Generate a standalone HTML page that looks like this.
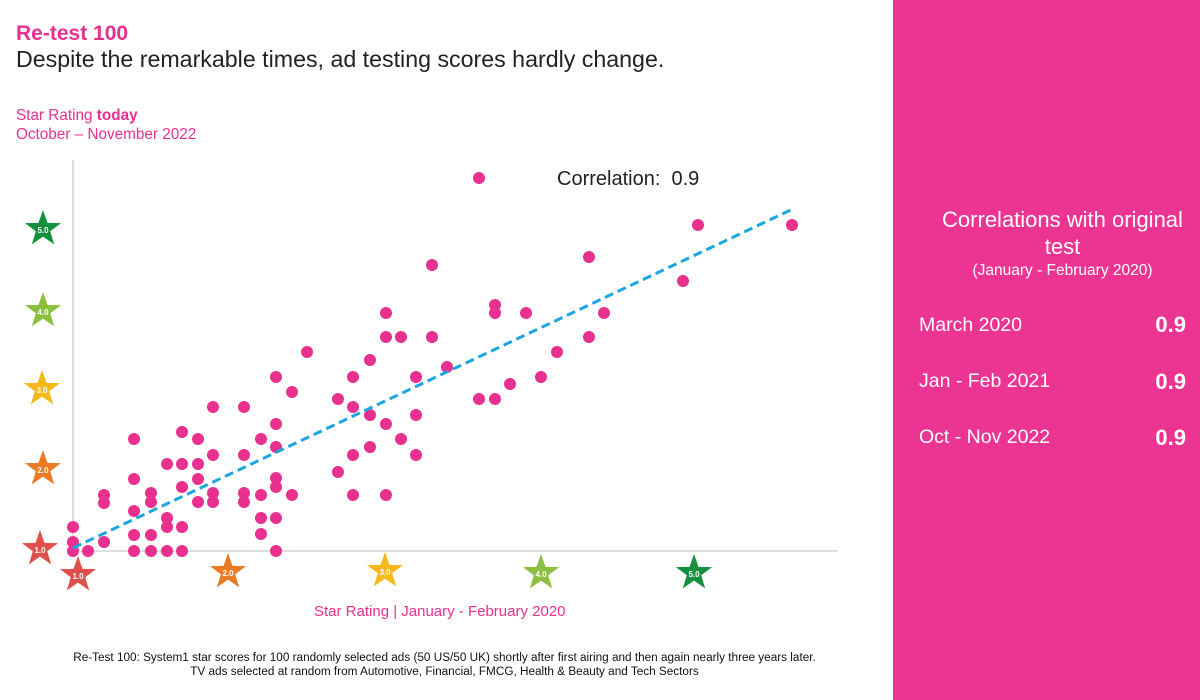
<!DOCTYPE html>
<html><head><meta charset="utf-8"><style>
body{margin:0;width:1200px;height:700px;background:#fff;font-family:"Liberation Sans",sans-serif;position:relative;overflow:hidden}
.t{position:absolute;white-space:nowrap}
</style></head><body>
<div class="t" style="left:16px;top:22px;font-size:21px;font-weight:bold;color:#e8318f">Re-test 100</div>
<div class="t" style="left:16px;top:46px;font-size:23.2px;color:#222">Despite the remarkable times, ad testing scores hardly change.</div>
<div class="t" style="left:16px;top:107px;font-size:15.3px;color:#e8318f">Star Rating <b>today</b></div>
<div class="t" style="left:16px;top:126px;font-size:15.3px;color:#e8318f">October – November 2022</div>
<div class="t" style="left:557px;top:168px;font-size:20px;color:#222">Correlation:&nbsp; 0.9</div>
<div class="t" style="left:314px;top:603px;font-size:15px;color:#e8318f">Star Rating | January - February 2020</div>
<div class="t" style="left:0;width:889px;top:651px;font-size:11.75px;color:#111;text-align:center;line-height:14px">Re-Test 100: System1 star scores for 100 randomly selected ads (50 US/50 UK) shortly after first airing and then again nearly three years later.<br>TV ads selected at random from Automotive, Financial, FMCG, Health &amp; Beauty and Tech Sectors</div>
<div style="position:absolute;left:893px;top:0;width:307px;height:700px;background:#ec3492;color:#fff">
<div class="t" style="left:16px;width:307px;top:206px;text-align:center;font-size:22px;line-height:27px;white-space:normal">Correlations with original<br>test</div>
<div class="t" style="left:16px;width:307px;top:262px;text-align:center;font-size:15.5px">(January - February 2020)</div>
<div class="t" style="left:26px;top:314px;font-size:19.5px">March 2020</div><div class="t" style="right:14px;top:312px;font-size:22px;font-weight:bold">0.9</div>
<div class="t" style="left:26px;top:370px;font-size:19.5px">Jan - Feb 2021</div><div class="t" style="right:14px;top:369px;font-size:22px;font-weight:bold">0.9</div>
<div class="t" style="left:26px;top:426px;font-size:19.5px">Oct - Nov 2022</div><div class="t" style="right:14px;top:425px;font-size:22px;font-weight:bold">0.9</div>
</div>
<svg width="893" height="700" style="position:absolute;left:0;top:0">
<defs><polygon id="st" points="0,-19 4.5,-6.1 18.1,-5.9 7.2,2.3 11.2,15.4 0,7.6 -11.2,15.4 -7.2,2.3 -18.1,-5.9 -4.5,-6.1"/></defs>
<line x1="73" y1="160" x2="73" y2="551" stroke="#bbb" stroke-width="1"/>
<line x1="73" y1="551" x2="838" y2="551" stroke="#bbb" stroke-width="1"/>
<g font-size="8" font-weight="bold" fill="#fff" text-anchor="middle" font-family="Liberation Sans">
<use href="#st" x="43" y="229" fill="#14903e"/><text x="43" y="233">5.0</text>
<use href="#st" x="43" y="311" fill="#8cbf3f"/><text x="43" y="315">4.0</text>
<use href="#st" x="42" y="389" fill="#f7b81c"/><text x="42" y="393">3.0</text>
<use href="#st" x="43" y="469" fill="#ec7a22"/><text x="43" y="473">2.0</text>
<use href="#st" x="40" y="549" fill="#e0504a"/><text x="40" y="553">1.0</text>
<use href="#st" x="78" y="575" fill="#e0504a"/><text x="78" y="579">1.0</text>
<use href="#st" x="228" y="572" fill="#ec7a22"/><text x="228" y="576">2.0</text>
<use href="#st" x="385" y="571" fill="#f7b81c"/><text x="385" y="575">3.0</text>
<use href="#st" x="541" y="573" fill="#8cbf3f"/><text x="541" y="577">4.0</text>
<use href="#st" x="694" y="573" fill="#14903e"/><text x="694" y="577">5.0</text>
</g>
<g fill="#e8318f">
<circle cx="73" cy="527" r="6"/><circle cx="73" cy="542" r="6"/><circle cx="73" cy="551" r="6"/><circle cx="88" cy="551" r="6"/><circle cx="104" cy="542" r="6"/><circle cx="104" cy="495" r="6"/><circle cx="104" cy="503" r="6"/><circle cx="134" cy="439" r="6"/><circle cx="134" cy="479" r="6"/><circle cx="134" cy="511" r="6"/><circle cx="134" cy="535" r="6"/><circle cx="134" cy="551" r="6"/><circle cx="151" cy="493" r="6"/><circle cx="151" cy="502" r="6"/><circle cx="151" cy="535" r="6"/><circle cx="151" cy="551" r="6"/><circle cx="167" cy="464" r="6"/><circle cx="167" cy="518" r="6"/><circle cx="167" cy="527" r="6"/><circle cx="167" cy="551" r="6"/><circle cx="182" cy="432" r="6"/><circle cx="182" cy="464" r="6"/><circle cx="182" cy="487" r="6"/><circle cx="182" cy="527" r="6"/><circle cx="182" cy="551" r="6"/><circle cx="198" cy="439" r="6"/><circle cx="198" cy="464" r="6"/><circle cx="198" cy="479" r="6"/><circle cx="198" cy="502" r="6"/><circle cx="213" cy="407" r="6"/><circle cx="213" cy="455" r="6"/><circle cx="213" cy="493" r="6"/><circle cx="213" cy="502" r="6"/><circle cx="244" cy="407" r="6"/><circle cx="244" cy="455" r="6"/><circle cx="244" cy="493" r="6"/><circle cx="244" cy="502" r="6"/><circle cx="261" cy="439" r="6"/><circle cx="261" cy="495" r="6"/><circle cx="261" cy="518" r="6"/><circle cx="261" cy="534" r="6"/><circle cx="276" cy="377" r="6"/><circle cx="276" cy="424" r="6"/><circle cx="276" cy="447" r="6"/><circle cx="276" cy="478" r="6"/><circle cx="276" cy="487" r="6"/><circle cx="276" cy="518" r="6"/><circle cx="276" cy="551" r="6"/><circle cx="292" cy="392" r="6"/><circle cx="292" cy="495" r="6"/><circle cx="307" cy="352" r="6"/><circle cx="338" cy="399" r="6"/><circle cx="338" cy="472" r="6"/><circle cx="353" cy="377" r="6"/><circle cx="353" cy="407" r="6"/><circle cx="353" cy="455" r="6"/><circle cx="353" cy="495" r="6"/><circle cx="370" cy="360" r="6"/><circle cx="370" cy="415" r="6"/><circle cx="370" cy="447" r="6"/><circle cx="386" cy="313" r="6"/><circle cx="386" cy="337" r="6"/><circle cx="386" cy="424" r="6"/><circle cx="386" cy="495" r="6"/><circle cx="401" cy="337" r="6"/><circle cx="401" cy="439" r="6"/><circle cx="416" cy="377" r="6"/><circle cx="416" cy="415" r="6"/><circle cx="416" cy="455" r="6"/><circle cx="432" cy="265" r="6"/><circle cx="432" cy="337" r="6"/><circle cx="447" cy="367" r="6"/>
<circle cx="479" cy="178" r="6"/><circle cx="495" cy="305" r="6"/><circle cx="495" cy="313" r="6"/><circle cx="526" cy="313" r="6"/><circle cx="479" cy="399" r="6"/><circle cx="495" cy="399" r="6"/><circle cx="510" cy="384" r="6"/><circle cx="541" cy="377" r="6"/><circle cx="557" cy="352" r="6"/><circle cx="589" cy="257" r="6"/><circle cx="589" cy="337" r="6"/><circle cx="604" cy="313" r="6"/><circle cx="683" cy="281" r="6"/><circle cx="698" cy="225" r="6"/><circle cx="792" cy="225" r="6"/>
</g>
<line x1="73" y1="548" x2="795" y2="208" stroke="#1aa7e0" stroke-width="3" stroke-dasharray="9,5"/>
</svg>
</body></html>
